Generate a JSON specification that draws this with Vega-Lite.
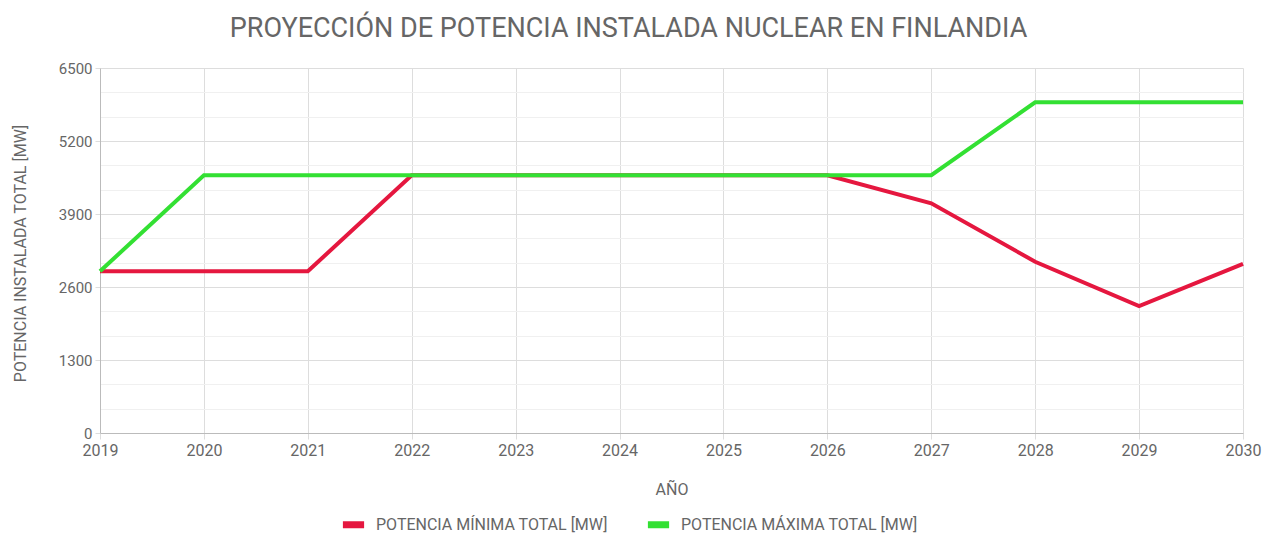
{
  "$schema": "https://vega.github.io/schema/vega-lite/v6.json",
  "width": 1143,
  "height": 365,
  "autosize": {"type": "none"},
  "padding": {"left": 100, "top": 68, "right": 30, "bottom": 105},
  "background": "white",
  "config": {"view": {"stroke": null}, "font": "Roboto"},
  "title": {
    "text": "PROYECCIÓN DE POTENCIA INSTALADA NUCLEAR EN FINLANDIA",
    "fontSize": 27,
    "font": "Roboto",
    "fontWeight": "normal",
    "color": "#666666",
    "anchor": "middle",
    "dx": -43,
    "offset": 18
  },
  "data": {
    "values": [
      {"year": "2019", "serie": "POTENCIA MÍNIMA TOTAL [MW]", "mw": 2880},
      {"year": "2020", "serie": "POTENCIA MÍNIMA TOTAL [MW]", "mw": 2880},
      {"year": "2021", "serie": "POTENCIA MÍNIMA TOTAL [MW]", "mw": 2880},
      {"year": "2022", "serie": "POTENCIA MÍNIMA TOTAL [MW]", "mw": 4590},
      {"year": "2023", "serie": "POTENCIA MÍNIMA TOTAL [MW]", "mw": 4590},
      {"year": "2024", "serie": "POTENCIA MÍNIMA TOTAL [MW]", "mw": 4590},
      {"year": "2025", "serie": "POTENCIA MÍNIMA TOTAL [MW]", "mw": 4590},
      {"year": "2026", "serie": "POTENCIA MÍNIMA TOTAL [MW]", "mw": 4590},
      {"year": "2027", "serie": "POTENCIA MÍNIMA TOTAL [MW]", "mw": 4090},
      {"year": "2028", "serie": "POTENCIA MÍNIMA TOTAL [MW]", "mw": 3050},
      {"year": "2029", "serie": "POTENCIA MÍNIMA TOTAL [MW]", "mw": 2260},
      {"year": "2030", "serie": "POTENCIA MÍNIMA TOTAL [MW]", "mw": 3010},
      {"year": "2019", "serie": "POTENCIA MÁXIMA TOTAL [MW]", "mw": 2880},
      {"year": "2020", "serie": "POTENCIA MÁXIMA TOTAL [MW]", "mw": 4590},
      {"year": "2021", "serie": "POTENCIA MÁXIMA TOTAL [MW]", "mw": 4590},
      {"year": "2022", "serie": "POTENCIA MÁXIMA TOTAL [MW]", "mw": 4590},
      {"year": "2023", "serie": "POTENCIA MÁXIMA TOTAL [MW]", "mw": 4590},
      {"year": "2024", "serie": "POTENCIA MÁXIMA TOTAL [MW]", "mw": 4590},
      {"year": "2025", "serie": "POTENCIA MÁXIMA TOTAL [MW]", "mw": 4590},
      {"year": "2026", "serie": "POTENCIA MÁXIMA TOTAL [MW]", "mw": 4590},
      {"year": "2027", "serie": "POTENCIA MÁXIMA TOTAL [MW]", "mw": 4590},
      {"year": "2028", "serie": "POTENCIA MÁXIMA TOTAL [MW]", "mw": 5890},
      {"year": "2029", "serie": "POTENCIA MÁXIMA TOTAL [MW]", "mw": 5890},
      {"year": "2030", "serie": "POTENCIA MÁXIMA TOTAL [MW]", "mw": 5890}
    ]
  },
  "encoding": {
    "x": {
      "field": "year",
      "type": "ordinal",
      "scale": {"type": "point", "padding": 0},
      "axis": {
        "labelAngle": 0,
        "labelFontSize": 16,
        "labelColor": "#666666",
        "labelPadding": 3,
        "tickSize": 6,
        "tickColor": "#dddddd",
        "domainColor": "#bbbbbb",
        "gridColor": "#dddddd",
        "grid": true,
        "title": "AÑO",
        "titleFontSize": 16,
        "titleFontWeight": "normal",
        "titleColor": "#666666",
        "titlePadding": 23
      }
    },
    "y": {
      "field": "mw",
      "type": "quantitative",
      "scale": {"domain": [0, 6500], "nice": false, "zero": true},
      "axis": {
        "values": [0, 433.333, 866.667, 1300, 1733.333, 2166.667, 2600, 3033.333, 3466.667, 3900, 4333.333, 4766.667, 5200, 5633.333, 6066.667, 6500],
        "labelExpr": "abs(datum.value/1300 - round(datum.value/1300)) < 0.01 ? format(datum.value, 'd') : ''",
        "labelFontSize": 15,
        "labelColor": "#666666",
        "labelPadding": 3,
        "tickSize": 5,
        "tickColor": {"condition": {"test": "abs(datum.value/1300 - round(datum.value/1300)) < 0.01", "value": "#dddddd"}, "value": "transparent"},
        "gridColor": {"condition": {"test": "abs(datum.value/1300 - round(datum.value/1300)) < 0.01", "value": "#dddddd"}, "value": "#f0f0f0"},
        "grid": true,
        "domainColor": "#bbbbbb",
        "title": "POTENCIA INSTALADA TOTAL [MW]",
        "titleFontSize": 16,
        "titleFontWeight": "normal",
        "titleColor": "#666666",
        "titleX": -72,
        "titleY": 185
      }
    },
    "color": {
      "field": "serie",
      "type": "nominal",
      "scale": {
        "domain": ["POTENCIA MÍNIMA TOTAL [MW]", "POTENCIA MÁXIMA TOTAL [MW]"],
        "range": ["#e5173f", "#33e033"]
      },
      "legend": {
        "orient": "none",
        "legendX": 239,
        "legendY": 442,
        "direction": "horizontal",
        "title": null,
        "labelFontSize": 16,
        "labelLimit": 0,
        "labelColor": "#666666",
        "symbolType": "stroke",
        "symbolStrokeWidth": 7,
        "symbolSize": 450,
        "columnPadding": 25,
        "labelOffset": 8
      }
    }
  },
  "layer": [
    {
      "transform": [{"filter": "datum.serie === 'POTENCIA MÍNIMA TOTAL [MW]'"}],
      "mark": {"type": "line", "strokeWidth": 4}
    },
    {
      "transform": [{"filter": "datum.serie === 'POTENCIA MÁXIMA TOTAL [MW]'"}],
      "mark": {"type": "line", "strokeWidth": 4}
    }
  ]
}
